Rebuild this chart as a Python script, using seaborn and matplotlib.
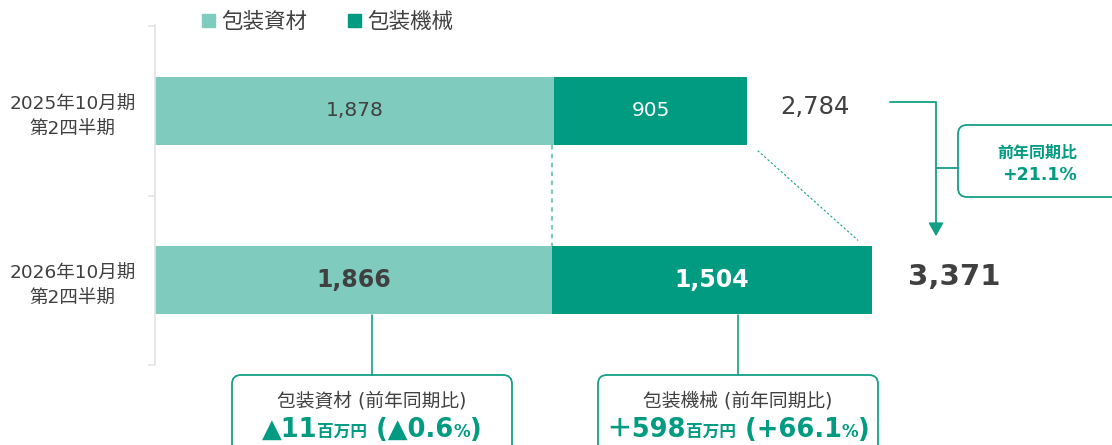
import numpy as np
import pandas as pd
import matplotlib
matplotlib.use("Agg")
import matplotlib.pyplot as plt
from matplotlib.patches import FancyBboxPatch, Patch
import seaborn as sns

sns.set_style("white")
plt.rcParams['font.family'] = ['DejaVu Sans', 'Noto Sans CJK JP']

# data (百万円)
periods = ["2025年10月期\n第2四半期", "2026年10月期\n第2四半期"]
materials = [1878, 1866]      # 包装資材
machines = [905, 1504]        # 包装機械
totals = [2784, 3371]
series_names = ["包装資材", "包装機械"]
yoy_total = "+21.1%"

LIGHT = "#7fcbbd"
DARK = "#009b80"
GREEN = "#13a086"
GRAY = "#404040"

df = pd.DataFrame({"period": periods, "material": materials,
                   "machine": machines, "total": totals})

fig = plt.figure(figsize=(11.12, 4.45), dpi=100)
ax = fig.add_axes([155/1112, 1-365/445, 957/1112, 340/445])

sns.barplot(data=df, x="total", y="period", color=DARK, width=0.4,
            saturation=1, linewidth=0, ax=ax)
sns.barplot(data=df, x="material", y="period", color=LIGHT, width=0.4,
            saturation=1, linewidth=0, ax=ax)

ax.set_xlim(0, 4500)
ax.set_ylim(1.494, -0.506)
ax.set_xlabel("")
ax.set_ylabel("")
ax.set_xticks([])
for s in ["top", "right", "bottom"]:
    ax.spines[s].set_visible(False)
ax.spines["left"].set_color("#e3e3e3")
ax.spines["left"].set_linewidth(1.2)
ax.set_yticks([-0.5, 0.5, 1.5], minor=True)
ax.tick_params(axis="y", which="minor", length=5, color="#e3e3e3", width=1.2, left=True)
ax.tick_params(axis="y", which="major", length=0, pad=14, labelsize=13.3, labelcolor=GRAY)
for lab in ax.get_yticklabels():
    lab.set_multialignment("center")
    lab.set_linespacing(1.5)

# segment values
for i in range(len(periods)):
    bold = i == 1
    ax.text(materials[i] / 2, i, f"{materials[i]:,}", ha="center", va="center",
            fontsize=17 if bold else 14.5, fontweight="bold" if bold else "normal",
            color=GRAY)
    ax.text(materials[i] + machines[i] / 2, i, f"{machines[i]:,}", ha="center", va="center",
            fontsize=17 if bold else 14.5, fontweight="bold" if bold else "normal",
            color="white")
ax.text(totals[0] + 155, -0.02, f"{totals[0]:,}", ha="left", va="center",
        fontsize=17.5, color=GRAY)
ax.text(totals[1] + 170, 0.98, f"{totals[1]:,}", ha="left", va="center",
        fontsize=21, fontweight="bold", color=GRAY)

# dotted guides
ax.plot([materials[1], materials[1]], [0.2, 0.8], color=LIGHT, lw=1.6,
        ls=(0, (2, 2)), clip_on=False)
ax.plot([totals[0] + 50, totals[1] - 65], [0.235, 0.765], color=GREEN, lw=0.8,
        ls=(0, (2, 2)), clip_on=False)

# legend
handles = [Patch(color=LIGHT), Patch(color=DARK)]
fig.legend(handles, series_names, loc="center", bbox_to_anchor=(328/1112, 1-22/445),
           ncol=2, frameon=False, fontsize=15.5, handlelength=0.6, handleheight=0.6,
           handletextpad=0.3, columnspacing=1.9, labelcolor=GRAY)

# overlay in pixel units for callouts
ov = fig.add_axes([0, 0, 1, 1], facecolor="none")
ov.set_xlim(0, 1112)
ov.set_ylim(445, 0)
ov.axis("off")

def box(x0, y0, x1, y1):
    ov.add_patch(FancyBboxPatch((x0, y0), x1 - x0, y1 - y0,
                                boxstyle="round,pad=0,rounding_size=9",
                                fc="white", ec=GREEN, lw=1.3, clip_on=False))

renderer = fig.canvas.get_renderer()

def rich_line(xc, y, parts):
    texts = []
    for s, size in parts:
        texts.append(ov.text(0, y, s, fontsize=size, fontweight="bold", color=DARK,
                             ha="left", va="baseline"))
    widths = [t.get_window_extent(renderer).width for t in texts]
    x = xc - sum(widths) / 2
    for t, w in zip(texts, widths):
        t.set_x(x)
        x += w

# bottom callouts
box(232, 375, 512, 470)
box(598, 375, 878, 470)
ov.plot([372, 372], [315, 375], color=GREEN, lw=1.2)
ov.plot([738, 738], [315, 375], color=GREEN, lw=1.2)
ov.text(372, 401, "包装資材 (前年同期比)", ha="center", va="center", fontsize=13.5, color=GRAY)
ov.text(738, 401, "包装機械 (前年同期比)", ha="center", va="center", fontsize=13.5, color=GRAY)
rich_line(372, 437, [("▲11", 18.5), ("百万円", 12), (" (▲0.6", 18.5), ("%", 12), (")", 18.5)])
rich_line(738, 437, [("＋598", 18.5), ("百万円", 12), (" (+66.1", 18.5), ("%", 12), (")", 18.5)])

# total change callout
box(958, 125, 1130, 197)
ov.plot([890, 936, 936], [102, 102, 228], color=GREEN, lw=1.3)
ov.plot([936, 958], [168, 168], color=GREEN, lw=1.3)
ov.annotate("", xy=(936, 239), xytext=(936, 226),
            arrowprops=dict(arrowstyle="-|>,head_length=0.8,head_width=0.45",
                            color=GREEN, lw=1.3))
ov.text(1037, 153, "前年同期比", ha="center", va="center", fontsize=11.5,
        fontweight="bold", color=DARK)
ov.text(1039, 175, yoy_total, ha="center", va="center", fontsize=12.5,
        fontweight="bold", color=DARK)

fig.savefig("out.png", dpi=100)
